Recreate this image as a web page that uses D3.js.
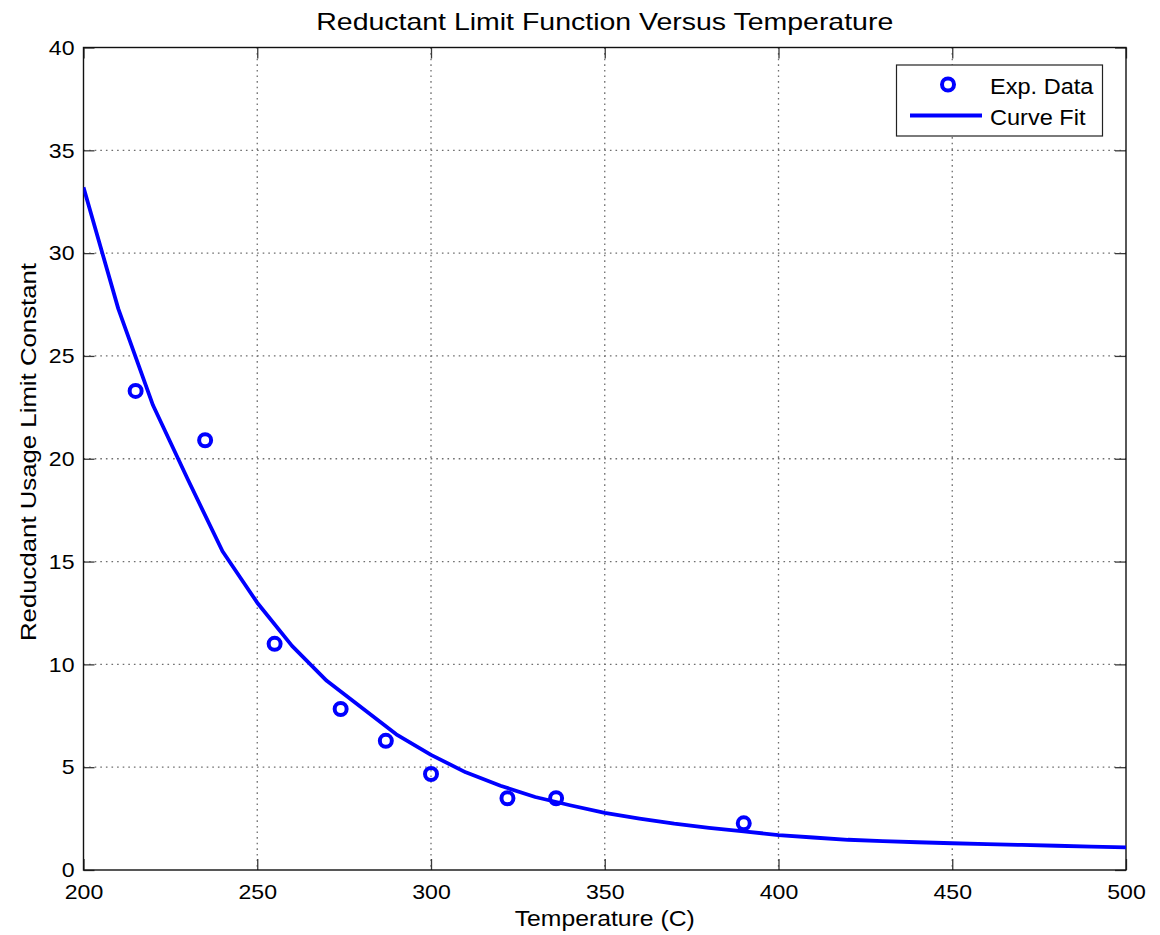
<!DOCTYPE html>
<html>
<head>
<meta charset="utf-8">
<script src="https://cdn.jsdelivr.net/npm/d3@7"></script>
<style>
  html, body { margin: 0; padding: 0; background: #fff; }
  svg { display: block; font-family: "Liberation Sans", Arial, Helvetica, sans-serif; }
</style>
</head>
<body>
<svg id="chart" width="1160" height="935"></svg>
<script>
// Measured temperatures (C) and reductant usage limit constants
const expTemp = [215, 235, 255, 274, 287, 300, 322, 336, 390];
const expValue = [23.3, 20.9, 11.0, 7.83, 6.28, 4.67, 3.49, 3.49, 2.27];

// Fitted curve, sampled every 10 C
const fitTemp = [200, 210, 220, 230, 240, 250, 260, 270, 280, 290, 300,
                 310, 320, 330, 340, 350, 360, 370, 380, 390, 400,
                 410, 420, 430, 440, 450, 460, 470, 480, 490, 500];
const fitValue = [33.2, 27.3, 22.6, 19.0, 15.5, 13.0, 10.9, 9.2, 7.9, 6.6, 5.6,
                  4.75, 4.1, 3.55, 3.15, 2.78, 2.5, 2.25, 2.05, 1.88, 1.70,
                  1.58, 1.47, 1.40, 1.35, 1.30, 1.26, 1.22, 1.18, 1.14, 1.10];

const xTicks = [200, 250, 300, 350, 400, 450, 500];
const yTicks = [0, 5, 10, 15, 20, 25, 30, 35, 40];

const titleText = "Reductant Limit Function Versus Temperature";
const xLabelText = "Temperature (C)";
const yLabelText = "Reducdant Usage Limit Constant";
const legendLabels = ["Exp. Data", "Curve Fit"];

const svg = d3.select("#chart");
const plot = { left: 83.5, right: 1126, top: 47.5, bottom: 870 };
const blue = "#0000ff";

// Widen a text element horizontally by the given factor
function widen(sel, factor) {
  sel.each(function () {
    const len = this.getComputedTextLength();
    if (len > 0) {
      d3.select(this).attr("textLength", len * factor).attr("lengthAdjust", "spacingAndGlyphs");
    }
  });
}

const x = d3.scaleLinear().domain([200, 500]).range([plot.left, plot.right]);
const y = d3.scaleLinear().domain([0, 40]).range([plot.bottom, plot.top]);

// Dotted grid
const grid = svg.append("g").attr("stroke", "#6e6e6e").attr("stroke-width", 1.3)
  .attr("stroke-dasharray", "1.6,4");
grid.selectAll("line.gx").data(xTicks.slice(1, -1)).join("line")
  .attr("x1", d => x(d)).attr("x2", d => x(d))
  .attr("y1", plot.top).attr("y2", plot.bottom);
grid.selectAll("line.gy").data(yTicks.slice(1, -1)).join("line")
  .attr("x1", plot.left).attr("x2", plot.right)
  .attr("y1", d => y(d)).attr("y2", d => y(d));

// Axes with inward ticks on all four sides
const tickLen = 11;
const fontSize = 21;
function styleAxis(g) {
  g.select(".domain").remove();
  g.selectAll(".tick line").attr("stroke", "#3a3a3a").attr("stroke-width", 1.3);
  g.selectAll(".tick text").attr("fill", "#000").style("font-size", fontSize + "px")
    .style("font-family", "'Liberation Sans', Arial, sans-serif")
    .call(widen, 1.1);
}
svg.append("g").attr("transform", `translate(0,${plot.bottom})`)
  .call(d3.axisBottom(x).tickValues(xTicks).tickFormat(d3.format("d"))
    .tickSizeInner(-tickLen).tickSizeOuter(0).tickPadding(14))
  .call(styleAxis);
svg.append("g").attr("transform", `translate(0,${plot.top})`)
  .call(d3.axisTop(x).tickValues(xTicks).tickFormat("")
    .tickSizeInner(-tickLen).tickSizeOuter(0))
  .call(styleAxis);
svg.append("g").attr("transform", `translate(${plot.left},0)`)
  .call(d3.axisLeft(y).tickValues(yTicks).tickFormat(d3.format("d"))
    .tickSizeInner(-tickLen).tickSizeOuter(0).tickPadding(9))
  .call(styleAxis);
svg.append("g").attr("transform", `translate(${plot.right},0)`)
  .call(d3.axisRight(y).tickValues(yTicks).tickFormat("")
    .tickSizeInner(-tickLen).tickSizeOuter(0))
  .call(styleAxis);

// Axes box
svg.append("rect")
  .attr("x", plot.left).attr("y", plot.top)
  .attr("width", plot.right - plot.left).attr("height", plot.bottom - plot.top)
  .attr("fill", "none").attr("stroke", "#111").attr("stroke-width", 1.4);

// Clip region for data marks
svg.append("clipPath").attr("id", "plotClip").append("rect")
  .attr("x", plot.left).attr("y", plot.top)
  .attr("width", plot.right - plot.left).attr("height", plot.bottom - plot.top);

// Curve fit
const fitData = fitTemp.map((t, i) => [t, fitValue[i]]);
svg.append("path")
  .datum(fitData)
  .attr("clip-path", "url(#plotClip)")
  .attr("fill", "none").attr("stroke", blue).attr("stroke-width", 3.8)
  .attr("stroke-linejoin", "round")
  .attr("d", d3.line().x(d => x(d[0])).y(d => y(d[1])));

// Experimental points
const expData = expTemp.map((t, i) => [t, expValue[i]]);
svg.append("g").selectAll("circle").data(expData).join("circle")
  .attr("cx", d => x(d[0])).attr("cy", d => y(d[1]))
  .attr("r", 6).attr("fill", "none").attr("stroke", blue).attr("stroke-width", 4);

// Title and axis labels
const plotMid = (plot.left + plot.right) / 2;
svg.append("text").attr("x", plotMid).attr("y", 30)
  .attr("text-anchor", "middle").style("font-size", "24px").text(titleText)
  .attr("textLength", 577).attr("lengthAdjust", "spacingAndGlyphs");
svg.append("text").attr("x", plotMid).attr("y", 926)
  .attr("text-anchor", "middle").style("font-size", "22px").text(xLabelText)
  .attr("textLength", 180).attr("lengthAdjust", "spacingAndGlyphs");
svg.append("text")
  .attr("transform", "translate(36,452) rotate(-90)")
  .attr("text-anchor", "middle").style("font-size", "22px").text(yLabelText)
  .attr("textLength", 378).attr("lengthAdjust", "spacingAndGlyphs");

// Legend
const legend = svg.append("g");
legend.append("rect").attr("x", 896.5).attr("y", 65).attr("width", 206).attr("height", 71)
  .attr("fill", "#fff").attr("stroke", "#222").attr("stroke-width", 1.2);
legend.append("circle").attr("cx", 948).attr("cy", 84.5).attr("r", 6)
  .attr("fill", "none").attr("stroke", blue).attr("stroke-width", 4);
legend.append("line").attr("x1", 910).attr("x2", 982).attr("y1", 115.5).attr("y2", 115.5)
  .attr("stroke", blue).attr("stroke-width", 3.8);
legend.selectAll("text").data(legendLabels).join("text")
  .attr("x", 990).attr("y", (d, i) => 94 + i * 31)
  .style("font-size", "22px").text(d => d)
  .call(widen, 1.07);
</script>
</body>
</html>
